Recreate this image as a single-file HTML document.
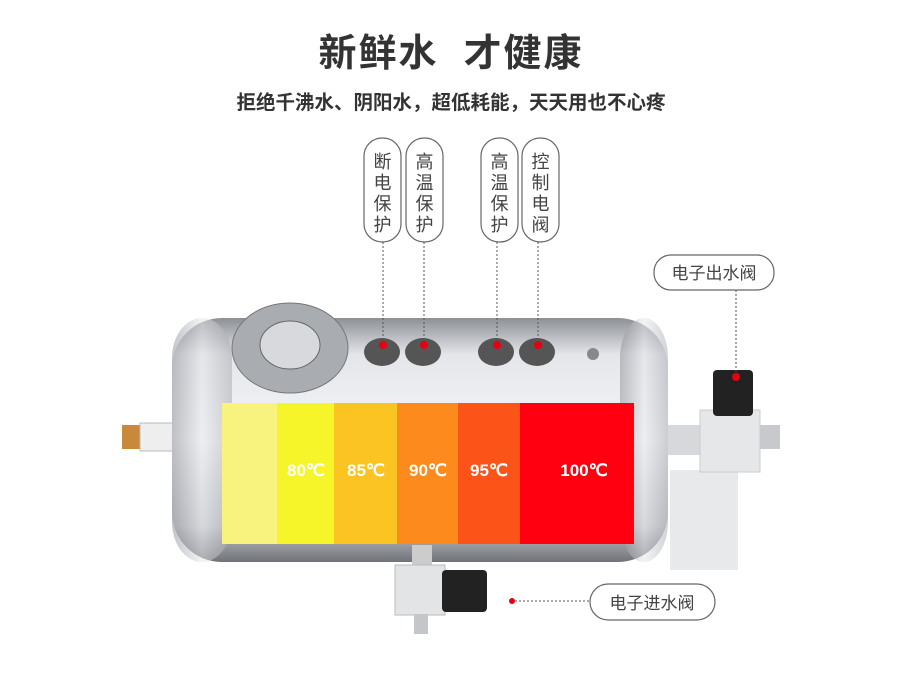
<!DOCTYPE html><html><head><meta charset="utf-8"><style>
body{margin:0;width:902px;height:673px;background:#fff;overflow:hidden;position:relative;font-family:"Liberation Sans","Noto Sans CJK SC",sans-serif}
.t{position:absolute;left:0;width:902px;text-align:center}
</style></head><body>
<div class="t" style="top:22px;font-size:38px;font-weight:bold;color:#333;letter-spacing:2px">新鲜水&nbsp;&nbsp;才健康</div>
<div class="t" style="top:86px;font-size:19.5px;font-weight:bold;color:#333">拒绝千沸水、阴阳水，超低耗能，天天用也不心疼</div>
<svg width="902" height="673" style="position:absolute;left:0;top:0">
<defs>
<linearGradient id="g" x1="0" y1="0" x2="0" y2="1">
<stop offset="0" stop-color="#8d9096"/><stop offset="0.15" stop-color="#e4e6ea"/><stop offset="0.5" stop-color="#f4f5f7"/><stop offset="0.85" stop-color="#c7c9ce"/><stop offset="1" stop-color="#6f7278"/></linearGradient>
<linearGradient id="e" x1="0" y1="0" x2="1" y2="0">
<stop offset="0" stop-color="#888b91"/><stop offset="0.5" stop-color="#e6e8eb"/><stop offset="1" stop-color="#a4a7ad"/></linearGradient>
</defs>
<rect x="122" y="425" width="20" height="24" fill="#c9893a"/>
<rect x="140" y="423" width="36" height="28" fill="#eee" stroke="#bbb"/>
<rect x="670" y="470" width="68" height="100" fill="#e8e9eb"/>
<rect x="668" y="425" width="40" height="30" fill="#d6d8db"/>
<rect x="700" y="410" width="60" height="62" fill="#e6e7e9" stroke="#ccc"/>
<rect x="760" y="425" width="20" height="24" fill="#c8c9cc"/>
<rect x="713" y="370" width="40" height="46" rx="4" fill="#222"/>
<rect x="172" y="318" width="496" height="244" rx="50" fill="url(#g)"/>
<rect x="172" y="318" width="60" height="244" rx="40" fill="url(#e)" opacity=".5"/>
<rect x="620" y="318" width="48" height="244" rx="40" fill="url(#e)" opacity=".5"/>
<ellipse cx="290" cy="348" rx="58" ry="45" fill="#a9acb1" stroke="#777"/>
<ellipse cx="290" cy="345" rx="30" ry="24" fill="#d8d9dc" stroke="#666"/>
<g fill="#555"><ellipse cx="382" cy="352" rx="18" ry="14"/><ellipse cx="423" cy="352" rx="18" ry="14"/><ellipse cx="496" cy="352" rx="18" ry="14"/><ellipse cx="537" cy="352" rx="18" ry="14"/></g>
<circle cx="593" cy="354" r="6" fill="#888"/>
<rect x="222" y="403" width="56" height="141" fill="#f8f27f"/>
<rect x="277" y="403" width="58" height="141" fill="#f5f52a"/>
<rect x="334" y="403" width="64" height="141" fill="#fcc423"/>
<rect x="397" y="403" width="62" height="141" fill="#fd8a1c"/>
<rect x="458" y="403" width="63" height="141" fill="#fc5418"/>
<rect x="520" y="403" width="114" height="141" fill="#fe0010"/>
<g fill="#fff" font-size="17" font-weight="bold" font-family="Liberation Sans,sans-serif" text-anchor="middle">
<text x="306" y="476">80℃</text><text x="366" y="476">85℃</text><text x="428" y="476">90℃</text><text x="489" y="476">95℃</text><text x="584" y="476">100℃</text></g>
<rect x="412" y="545" width="20" height="20" fill="#ccc"/>
<rect x="395" y="565" width="50" height="50" fill="#e3e4e6" stroke="#bbb"/>
<rect x="442" y="570" width="45" height="42" rx="4" fill="#222"/>
<rect x="414" y="614" width="14" height="20" fill="#c5c6c9"/>
<g fill="#fff" stroke="#666" stroke-width="1.2">
<rect x="364" y="138" width="37" height="104" rx="18"/><rect x="406" y="138" width="37" height="104" rx="18"/>
<rect x="481" y="138" width="37" height="104" rx="18"/><rect x="522" y="138" width="37" height="104" rx="18"/>
<rect x="654" y="255" width="120" height="35" rx="17"/><rect x="590" y="584" width="125" height="36" rx="18"/></g>
<g stroke="#555" stroke-dasharray="2,2" stroke-width="1">
<line x1="383" y1="242" x2="383" y2="344"/><line x1="424" y1="242" x2="424" y2="344"/><line x1="497" y1="242" x2="497" y2="344"/><line x1="538" y1="242" x2="538" y2="344"/>
<line x1="736" y1="290" x2="736" y2="376"/><line x1="515" y1="601" x2="590" y2="601"/></g>
<g fill="#e60012"><circle cx="383" cy="345" r="4"/><circle cx="424" cy="345" r="4"/><circle cx="497" cy="345" r="4"/><circle cx="538" cy="345" r="4"/><circle cx="736" cy="377" r="4"/><circle cx="512" cy="601" r="3"/></g>
<g fill="#444" font-size="18" font-family="Liberation Sans,Noto Sans CJK SC,sans-serif" text-anchor="middle">
<text x="382.5" y="168">断</text><text x="382.5" y="189">电</text><text x="382.5" y="210">保</text><text x="382.5" y="231">护</text>
<text x="424.5" y="168">高</text><text x="424.5" y="189">温</text><text x="424.5" y="210">保</text><text x="424.5" y="231">护</text>
<text x="499.5" y="168">高</text><text x="499.5" y="189">温</text><text x="499.5" y="210">保</text><text x="499.5" y="231">护</text>
<text x="540.5" y="168">控</text><text x="540.5" y="189">制</text><text x="540.5" y="210">电</text><text x="540.5" y="231">阀</text>
<text x="714" y="279" font-size="17">电子出水阀</text><text x="652" y="609" font-size="17">电子进水阀</text></g>
</svg>
</body></html>
